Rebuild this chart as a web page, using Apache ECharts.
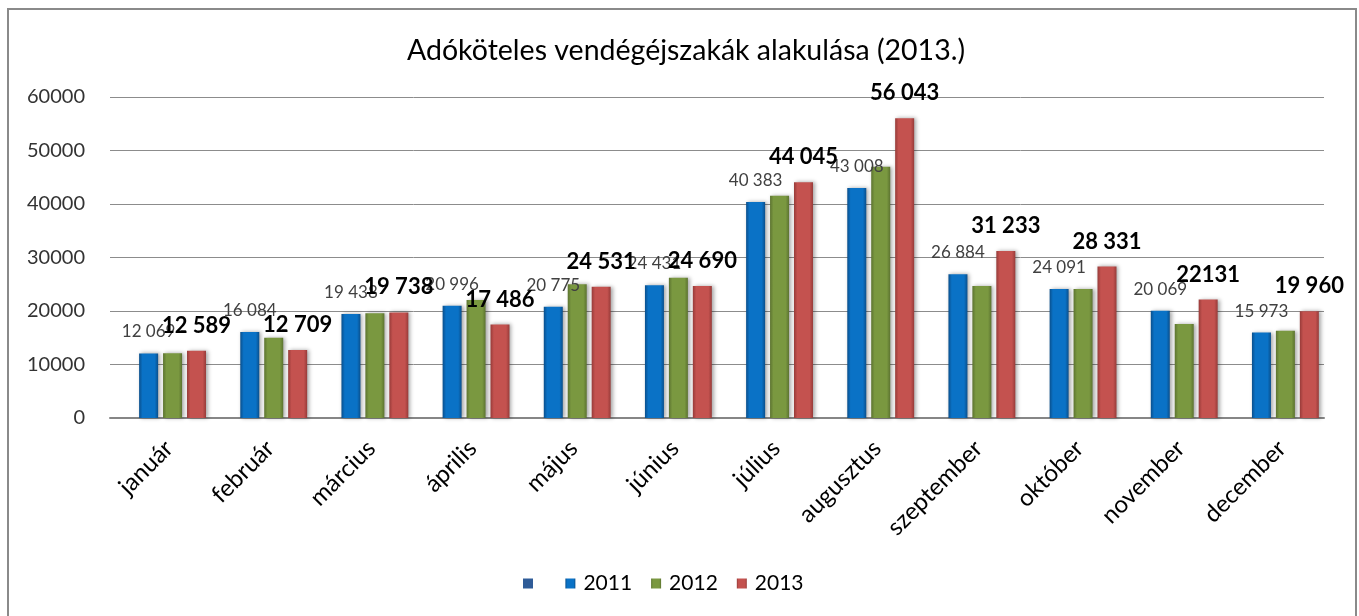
<!DOCTYPE html>
<html>
<head>
<meta charset="utf-8">
<script src="https://cdn.jsdelivr.net/npm/echarts@6/dist/echarts.min.js"></script>
<style>
html,body{margin:0;padding:0;background:#fff;}
#chart{width:1359px;height:616px;}
</style>
</head>
<body>
<div id="chart"></div>
<script>
const categories = ['január','február','március','április','május','június','július','augusztus','szeptember','október','november','december'];
const valuesBlank = [];
const values2011 = [12069,16084,19438,20996,20775,24800,40383,43008,26884,24091,20069,15973];
const values2012 = [12090,15010,19570,22050,24990,26220,41550,46970,24670,24110,17570,16330];
const values2013 = [12589,12709,19738,17486,24531,24690,44045,56043,31233,28331,22131,19960];
const labels2011 = ['12 069','16 084','19 438','20 996','20 775','24 431','40 383','43 008','26 884','24 091','20 069','15 973'];
const labels2013 = ['12 589','12 709','19 738','17 486','24 531','24 690','44 045','56 043','31 233','28 331','22131','19 960'];
const yTicks = [0,10000,20000,30000,40000,50000,60000];
const seriesNames = [' ','2011','2012','2013'];

const FONT = 'Lato';

function grad(edgeL, mid, edgeR){
  return new echarts.graphic.LinearGradient(0,0,1,0,[
    {offset:0,color:edgeL},{offset:0.18,color:mid},{offset:0.82,color:mid},{offset:1,color:edgeR}
  ]);
}
const barShadow = {shadowBlur:4, shadowColor:'rgba(0,0,0,0.35)', shadowOffsetX:2, shadowOffsetY:0};
const BW = 19, GAP = '26%';

const chart = echarts.init(document.getElementById('chart'), null, {renderer:'canvas'});
chart.setOption({
  animation:false,
  backgroundColor:'#fff',
  textStyle:{fontFamily:FONT},
  graphic:[{
    type:'rect', z:-10, silent:true,
    shape:{x:8, y:9, width:1348, height:620},
    style:{fill:'none', stroke:'#8a8a8a', lineWidth:2}
  }],
  title:{
    text:'Adóköteles vendégéjszakák alakulása (2013.)',
    left:681, top:31, textAlign:'center',
    textStyle:{fontFamily:FONT, fontSize:28.5, fontWeight:'normal', color:'#000'}
  },
  legend:{
    left:523, top:573, padding:0,
    icon:'rect', itemWidth:10, itemHeight:10, itemGap:19,
    textStyle:{fontFamily:FONT, fontSize:21, color:'#000', padding:[0,0,0,3]},
    data:seriesNames
  },
  grid:{left:110, right:35, top:97, bottom:198, containLabel:false},
  xAxis:{
    type:'category', data:categories,
    axisLine:{lineStyle:{color:'#868686', width:2}},
    axisTick:{show:false},
    axisLabel:{rotate:45, fontSize:24, fontFamily:FONT, color:'#000', margin:18, interval:0,
      align:'right', verticalAlign:'top'}
  },
  yAxis:{
    type:'value', min:yTicks[0], max:yTicks[yTicks.length-1], interval:10000,
    axisLine:{show:false},
    axisTick:{show:false},
    splitLine:{lineStyle:{color:'#8c8c8c', width:1}},
    axisLabel:{fontSize:20, fontFamily:FONT, color:'#333', margin:25, formatter:v=>String(v)}
  },
  series:[
    {name:seriesNames[0], type:'bar', data:valuesBlank, barWidth:BW, barGap:GAP,
      itemStyle:{color:'#2f5c98'}},
    {
      name:seriesNames[1], type:'bar', data:values2011, barWidth:BW, barGap:GAP,
      itemStyle:Object.assign({color:grad('#0a4f8c','#0a72c6','#0a4f8c')}, barShadow),
      label:{show:true, position:'top', distance:13, fontFamily:FONT, fontSize:17, color:'#404040',
        formatter:p=>labels2011[p.dataIndex]}
    },
    {
      name:seriesNames[2], type:'bar', data:values2012, barWidth:BW, barGap:GAP,
      itemStyle:Object.assign({color:grad('#5c7330','#7a9840','#5c7330')}, barShadow)
    },
    {
      name:seriesNames[3], type:'bar', data:values2013, barWidth:BW, barGap:GAP, z:5,
      itemStyle:Object.assign({color:grad('#973b39','#c4524f','#973b39')}, barShadow),
      label:{show:true, position:'top', distance:14, fontFamily:FONT, fontSize:22, fontWeight:'bold', color:'#000',
        formatter:p=>labels2013[p.dataIndex]}
    }
  ]
});
</script>
</body>
</html>
